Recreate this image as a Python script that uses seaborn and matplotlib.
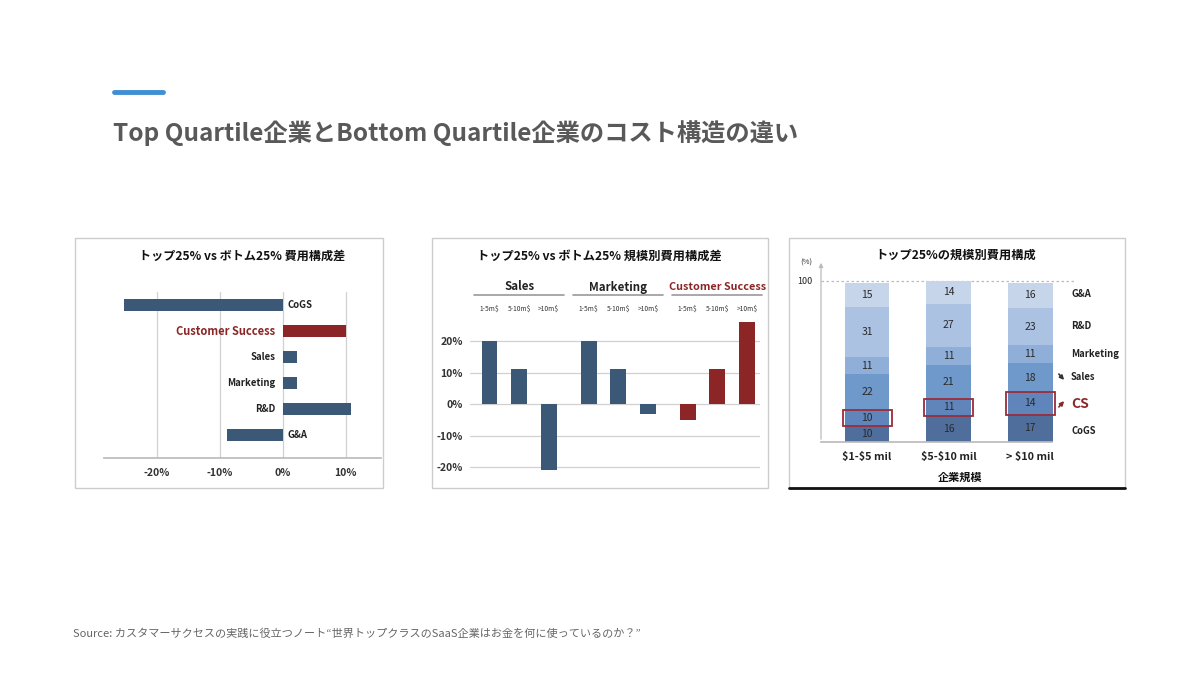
import numpy as np
import pandas as pd
import matplotlib
matplotlib.use("Agg")
import matplotlib.pyplot as plt
import seaborn as sns
from matplotlib.patches import Rectangle
from matplotlib.lines import Line2D

# --- データ ---
main_title = "Top Quartile企業とBottom Quartile企業のコスト構造の違い"
source_text = "Source: カスタマーサクセスの実践に役立つノート“世界トップクラスのSaaS企業はお金を何に使っているのか？”"

# 1) トップ25% vs ボトム25% 費用構成差
p1_title = "トップ25% vs ボトム25% 費用構成差"
p1_labels = ["CoGS", "Customer Success", "Sales", "Marketing", "R&D", "G&A"]
p1_values = [-25.2, 10.0, 2.2, 2.2, 10.8, -8.9]
p1_ticks = [-20, -10, 0, 10]

# 2) 規模別費用構成差
p2_title = "トップ25% vs ボトム25% 規模別費用構成差"
p2_groups = ["Sales", "Marketing", "Customer Success"]
p2_sizes = ["1-5m$", "5-10m$", ">10m$"]
p2_sales = [20, 11, -21]
p2_marketing = [20, 11, -3]
p2_cs = [-5, 11, 26]
p2_ticks = [-20, -10, 0, 10, 20]

# 3) トップ25%の規模別費用構成 (下から上へ)
p3_title = "トップ25%の規模別費用構成"
p3_sizes = ["$1-$5 mil", "$5-$10 mil", "> $10 mil"]
p3_layers = ["CoGS", "CS", "Sales", "Marketing", "R&D", "G&A"]
p3_cogs = [10, 16, 17]
p3_cs = [10, 11, 14]
p3_sales = [22, 21, 18]
p3_marketing = [11, 11, 11]
p3_rd = [31, 27, 23]
p3_ga = [15, 14, 16]

NAVY = "#3c5877"
RED = "#8c2626"
p3_colors = ["#4f6e9b", "#6085ba", "#7099cb", "#90afd8", "#abc2e2", "#c7d5ea"]

# --- スタイル ---
sns.set_theme(style="white")
plt.rcParams["font.family"] = ["Noto Sans CJK JP", "DejaVu Sans"]
plt.rcParams["text.parse_math"] = False

W, H = 1200, 675
fig = plt.figure(figsize=(12, 6.75), dpi=100)
fig.patch.set_facecolor("white")


def fx(x):
    return x / W


def fy(y):
    return 1 - y / H


def rect(x0, y0, x1, y1):
    return [x0 / W, 1 - y1 / H, (x1 - x0) / W, (y1 - y0) / H]


# タイトル周り
fig.add_artist(Line2D([fx(114), fx(163)], [fy(92), fy(92)], lw=3.5,
                      color="#3f8fd2", solid_capstyle="round"))
fig.text(fx(113), fy(133), main_title, fontsize=17.5, fontweight="bold",
         color="#595959", va="center", ha="left")
fig.text(fx(73), fy(634), source_text, fontsize=8, color="#666666",
         va="center", ha="left")

# パネル枠
for x0, x1 in [(75, 383), (432, 768), (789, 1125)]:
    fig.add_artist(Rectangle((fx(x0), fy(488)), (x1 - x0) / W, 250 / H,
                             transform=fig.transFigure, fill=False,
                             edgecolor="#cccccc", lw=1))
fig.add_artist(Line2D([fx(789), fx(1125)], [fy(488), fy(488)], lw=2, color="#111111"))

# ===== パネル1 =====
ax1 = fig.add_axes(rect(104, 292, 381, 458))
pal1 = {lab: (RED if lab == "Customer Success" else NAVY) for lab in p1_labels}
sns.barplot(x=p1_values, y=p1_labels, hue=p1_labels, palette=pal1, legend=False,
            orient="h", width=0.46, saturation=1, linewidth=0, ax=ax1)
ax1.set_xlim(-28.4, 15.6)
ax1.set_ylim(5.88, -0.5)
ax1.set_xticks(p1_ticks)
ax1.set_xticklabels([f"{t}%" for t in p1_ticks], fontsize=7.5, fontweight="bold", color="#333333")
ax1.set_yticks([])
ax1.set_xlabel("")
ax1.set_ylabel("")
for t in p1_ticks:
    ax1.axvline(t, color="#d0d0d0", lw=0.9, zorder=0)
for s in ["top", "left", "right"]:
    ax1.spines[s].set_visible(False)
ax1.spines["bottom"].set_color("#bbbbbb")
ax1.tick_params(axis="x", length=0, pad=7)
for i, (lab, v) in enumerate(zip(p1_labels, p1_values)):
    is_cs = lab == "Customer Success"
    if v >= 0:
        ax1.text(-1.2, i, lab, ha="right", va="center", fontsize=8 if is_cs else 6.9,
                 fontweight="bold", color=RED if is_cs else "#222222")
    else:
        ax1.text(0.8, i, lab, ha="left", va="center", fontsize=6.9,
                 fontweight="bold", color="#222222")
fig.text(fx(242), fy(256), p1_title, ha="center", va="center", fontsize=8.7,
         fontweight="bold", color="#111111")

# ===== パネル2 =====
ax2 = fig.add_axes(rect(470, 315, 760, 475))
df2 = pd.DataFrame({
    "group": np.repeat(p2_groups, len(p2_sizes)),
    "size": p2_sizes * len(p2_groups),
    "value": p2_sales + p2_marketing + p2_cs,
})
sns.barplot(data=df2, x="group", y="value", hue="size", width=0.895, gap=0.46,
            legend=False, saturation=1, linewidth=0, ax=ax2)
for p in ax2.patches:
    cx = p.get_x() + p.get_width() / 2
    p.set_facecolor(RED if cx > 1.5 else NAVY)
    p.set_edgecolor("none")
ax2.set_xlim(-0.495, 2.43)
ax2.set_ylim(-22.5, 28.3)
ax2.set_yticks(p2_ticks)
ax2.set_yticklabels([f"{t}%" for t in p2_ticks], fontsize=7.5, fontweight="bold", color="#333333")
ax2.set_xticks([])
ax2.set_xlabel("")
ax2.set_ylabel("")
ax2.yaxis.grid(True, color="#d0d0d0", lw=0.9)
ax2.set_axisbelow(True)
ax2.tick_params(axis="y", length=0, pad=5)
for s in ax2.spines.values():
    s.set_visible(False)
tr2 = ax2.get_xaxis_transform()
for g, name in enumerate(p2_groups):
    is_cs = name == "Customer Success"
    ax2.text(g, 1.175, name, transform=tr2, ha="center", va="center",
             fontsize=7.8 if is_cs else 8.3, fontweight="bold",
             color=RED if is_cs else "#222222", clip_on=False)
    ax2.add_line(Line2D([g - 0.455, g + 0.455], [1.125, 1.125], transform=tr2,
                        color="#999999", lw=1.2, clip_on=False))
    for k, sz in enumerate(p2_sizes):
        ax2.text(g + (k - 1) * 0.298, 1.0375, sz, transform=tr2, ha="center", va="center",
                 fontsize=4.8, color="#333333", clip_on=False)
fig.text(fx(599), fy(256), p2_title, ha="center", va="center", fontsize=8.8,
         fontweight="bold", color="#111111")

# ===== パネル3 =====
ax3 = fig.add_axes(rect(821, 262, 1076, 442))
layers = [p3_cogs, p3_cs, p3_sales, p3_marketing, p3_rd, p3_ga]
cum = np.cumsum(np.array(layers), axis=0)
for k in range(len(layers) - 1, -1, -1):
    sns.barplot(x=p3_sizes, y=cum[k], color=p3_colors[k], width=0.55,
                saturation=1, linewidth=0, ax=ax3)
for k in range(len(layers)):
    for j in range(len(p3_sizes)):
        mid = cum[k][j] - layers[k][j] / 2
        ax3.text(j, mid, str(layers[k][j]), ha="center", va="center",
                 fontsize=7.5, color="#2a2a2a")
# CS の強調枠
for j in range(len(p3_sizes)):
    ax3.add_patch(Rectangle((j - 0.3, cum[0][j]), 0.6, layers[1][j], fill=False,
                            edgecolor="#9b2c3a", lw=1.3, zorder=5))
ax3.set_xlim(-0.564, 2.56)
ax3.set_ylim(0, 111.8)
ax3.axhline(100, color="#bbbbbb", lw=0.9, ls=(0, (2, 2)), zorder=0)
ax3.set_yticks([])
ax3.set_xlabel("")
ax3.set_ylabel("")
ax3.tick_params(axis="x", length=0, pad=7)
ax3.set_xticks(range(len(p3_sizes)))
ax3.set_xticklabels(p3_sizes, fontsize=7.8, fontweight="bold", color="#222222")
for s in ["top", "right", "left"]:
    ax3.spines[s].set_visible(False)
ax3.spines["bottom"].set_color("#bbbbbb")
ax3.spines["bottom"].set_bounds(-0.564, 2.27)
ax3.annotate("", xy=(fx(821), fy(260)), xycoords="figure fraction",
             xytext=(fx(821), fy(442)), textcoords="figure fraction",
             arrowprops=dict(arrowstyle="-|>", color="#bbbbbb", lw=0.9,
                             mutation_scale=6))
fig.text(fx(806), fy(263), "(%)", ha="center", va="center", fontsize=5.5, color="#333333")
fig.text(fx(812), fy(281), "100", ha="right", va="center", fontsize=6.5, color="#222222")
fig.text(fx(956), fy(255), p3_title, ha="center", va="center", fontsize=8.8,
         fontweight="bold", color="#111111")
fig.text(fx(960), fy(477), "企業規模", ha="center", va="center", fontsize=8,
         fontweight="bold", color="#111111")

right_labels = ["G&A", "R&D", "Marketing", "Sales", "CS", "CoGS"]
right_y = [294, 326, 354, 377, 404, 431]
for lab, yy in zip(right_labels, right_y):
    is_cs = lab == "CS"
    fig.text(fx(1071), fy(yy), lab, ha="left", va="center",
             fontsize=10 if is_cs else 6.8, fontweight="bold",
             color=RED if is_cs else "#222222")
ax3.annotate("", xy=(fx(1066), fy(382)), xycoords="figure fraction",
             xytext=(fx(1057), fy(372)), textcoords="figure fraction",
             arrowprops=dict(arrowstyle="-|>", color="#333333", lw=1.2, mutation_scale=6))
ax3.annotate("", xy=(fx(1066), fy(399)), xycoords="figure fraction",
             xytext=(fx(1057), fy(409)), textcoords="figure fraction",
             arrowprops=dict(arrowstyle="-|>", color=RED, lw=1.2, mutation_scale=6))

fig.savefig("out.png", dpi=100)
